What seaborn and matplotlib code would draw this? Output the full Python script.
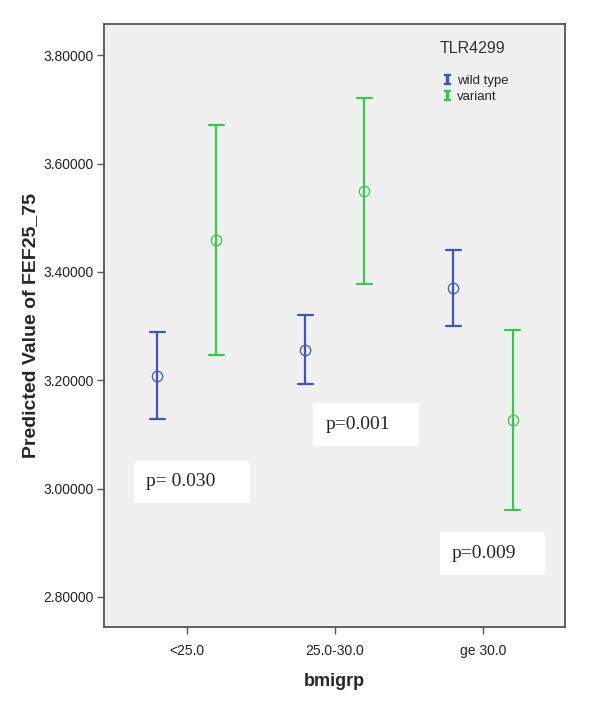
import numpy as np
import pandas as pd
import matplotlib
matplotlib.use("Agg")
import matplotlib.pyplot as plt
import seaborn as sns
from matplotlib.lines import Line2D
from matplotlib.patches import Rectangle

# chart data
bmi_groups = ['<25.0', '25.0-30.0', 'ge 30.0']
genotypes = ['wild type', 'variant']
wild_mean = [3.208, 3.256, 3.371]
wild_lo = [3.128, 3.193, 3.301]
wild_hi = [3.289, 3.320, 3.441]
variant_mean = [3.459, 3.550, 3.126]
variant_lo = [3.246, 3.378, 2.961]
variant_hi = [3.671, 3.722, 3.293]
y_ticks = [2.8, 3.0, 3.2, 3.4, 3.6, 3.8]
p_labels = ['p= 0.030', 'p=0.001', 'p=0.009']

colors = {'wild type': '#3b55c3', 'variant': '#36c84b'}

# long table: lo / mean / hi per cell -> median = mean, 100% interval = CI
rows = []
for gt, means, los, his in [('wild type', wild_mean, wild_lo, wild_hi),
                            ('variant', variant_mean, variant_lo, variant_hi)]:
    for g, m, lo, hi in zip(bmi_groups, means, los, his):
        for v in (lo, m, hi):
            rows.append({'bmigrp': g, 'TLR4299': gt, 'value': v})
df = pd.DataFrame(rows)

sns.set_style('white')
plt.rcParams['font.family'] = ['Liberation Sans', 'DejaVu Sans']

fig = plt.figure(figsize=(6, 7.04), dpi=100)
ax = fig.add_axes([0.173, 0.109, 0.769, 0.857])
ax.set_facecolor('#f0f0f0')

sns.pointplot(data=df, x='bmigrp', y='value', hue='TLR4299',
              order=bmi_groups, hue_order=genotypes, palette=colors,
              estimator='median', errorbar=('pi', 100), dodge=0.4,
              linestyle='none', markers='o', capsize=0.1,
              err_kws={'linewidth': 1.6}, markersize=7.5,
              markeredgewidth=0.9, legend=False, ax=ax)
for ln in ax.lines:
    ln.set_markerfacecolor('none')

ax.set_xlim(-0.56, 2.555)
ax.set_ylim(2.744, 3.858)
ax.set_yticks(y_ticks)
ax.set_yticklabels([f'{t:.5f}' for t in y_ticks])
ax.tick_params(axis='both', direction='out', length=5, width=1,
               color='#555555', labelsize=10, labelcolor='#222222',
               left=True, bottom=True, pad=2)
ax.tick_params(axis='x', pad=7)
for s in ax.spines.values():
    s.set_color('#555555')
    s.set_linewidth(1.3)

ax.set_xlabel('bmigrp', fontsize=13, fontweight='bold', labelpad=11)
ax.set_ylabel('Predicted Value of FEF25_75', fontsize=14, fontweight='bold', labelpad=3)

# p-value boxes
boxes = [(-0.358, 2.974, 0.784, 0.077, -0.277, 3.014),
         (0.851, 3.079, 0.717, 0.079, 0.939, 3.118),
         (1.709, 2.841, 0.710, 0.079, 1.791, 2.880)]
for (bx, by, bw, bh, tx, ty), lab in zip(boxes, p_labels):
    ax.add_patch(Rectangle((bx, by), bw, bh, facecolor='white', edgecolor='none', zorder=3))
    ax.text(tx, ty, lab, fontsize=14, family=['Liberation Serif'],
            va='center', ha='left', zorder=4)

ax.text(0.727, 0.960, 'TLR4299', transform=ax.transAxes, fontsize=11.5,
        color='#333333', ha='left', va='center')
handles = [Line2D([], [], linestyle='none', marker=r'$\mathtt{I}$',
                  color=colors[g], markersize=7) for g in genotypes]
leg = ax.legend(handles, genotypes, loc='upper left',
                bbox_to_anchor=(0.722, 0.927), frameon=False, fontsize=9.5,
                handlelength=0.5, handletextpad=0.5,
                labelspacing=0.3, borderpad=0)

fig.savefig('out.png', dpi=100)
